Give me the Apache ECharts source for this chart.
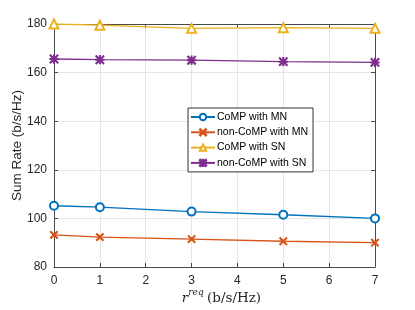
<!DOCTYPE html>
<html><head><meta charset="utf-8">
<script src="https://cdn.jsdelivr.net/npm/echarts@6/dist/echarts.min.js"></script>
<style>html,body{margin:0;padding:0;background:#fff}#c{width:415px;height:310px}</style>
</head><body><div id="c"></div>
<script>
const xValues = [0, 1, 3, 5, 7];
const compMN = [105.2, 104.6, 102.8, 101.5, 100.0];
const noncompMN = [93.2, 92.3, 91.5, 90.6, 90.0];
const compSN = [180.0, 179.5, 178.2, 178.5, 178.2];
const noncompSN = [165.6, 165.3, 165.1, 164.5, 164.2];
const seriesNames = ['CoMP with MN', 'non-CoMP with MN', 'CoMP with SN', 'non-CoMP with SN'];
const yTicks = [80, 100, 120, 140, 160, 180];
const xTicks = [0, 1, 2, 3, 4, 5, 6, 7];

const colors = ['#0072BD', '#D95319', '#EDB120', '#7E2F8E'];
const xPath = 'path://M0,0.8 L0.8,0 L5,4.2 L9.2,0 L10,0.8 L5.8,5 L10,9.2 L9.2,10 L5,5.8 L0.8,10 L0,9.2 L4.2,5 Z';
const starPath = 'path://M0,0.7 L0.7,0 L5,4.3 L9.3,0 L10,0.7 L5.7,5 L10,9.3 L9.3,10 L5,5.7 L0.7,10 L0,9.3 L4.3,5 Z M4.55,0 L5.45,0 L5.45,10 L4.55,10 Z M0,4.55 L10,4.55 L10,5.45 L0,5.45 Z';
const symbols = ['emptyCircle', xPath, 'emptyTriangle', starPath];
const sizes = [8, 7, 9, 8];
const dataSets = [compMN, noncompMN, compSN, noncompSN];
const font = 'Liberation Sans, Arial, sans-serif';
const axisColor = '#4a4a4a';

const chart = echarts.init(document.getElementById('c'), null, {renderer: 'canvas'});
const axisCommon = {
  type: 'value',
  axisLine: {show: true, onZero: false, lineStyle: {color: axisColor, width: 1}},
  axisTick: {show: true, inside: true, length: 4, lineStyle: {color: axisColor}},
  splitLine: {show: false},
};
chart.setOption({
  animation: false,
  grid: {left: 54, right: 40, top: 24, bottom: 43, containLabel: false, outerBoundsMode: 'none'},
  legend: {
    orient: 'vertical', left: 188, top: 108,
    data: seriesNames,
    backgroundColor: '#fff', borderColor: '#333', borderWidth: 1, borderRadius: 0,
    padding: [3, 5, 3, 2], itemGap: 3.3, itemWidth: 24, itemHeight: 8,
    textStyle: {fontFamily: font, fontSize: 10.5, lineHeight: 12, color: '#000', padding: [0, 0, 0, -3]}
  },
  xAxis: [
    Object.assign({}, axisCommon, {
      min: 0, max: 7, interval: 1, position: 'bottom',
      axisLabel: {fontFamily: font, fontSize: 12, color: '#262626', margin: 8},
      splitLine: {show: true, lineStyle: {color: '#e6e6e6', width: 1}},
      name: '{r|r}{s|req} {t|(b/s/Hz)}', nameLocation: 'middle', nameGap: 21,
      nameMoveOverlap: false,
      nameTextStyle: {
        color: '#262626',
        padding: [0, 0, 0, 14],
        rich: {
          r: {fontFamily: 'DejaVu Serif, serif', fontStyle: 'italic', fontSize: 13.5, color: '#262626'},
          s: {fontFamily: 'DejaVu Serif, serif', fontStyle: 'italic', fontSize: 9, color: '#262626', verticalAlign: 'bottom', padding: [0, 0, 11, 0]},
          t: {fontFamily: 'DejaVu Serif, serif', fontSize: 13.5, color: '#262626'}
        }
      }
    }),
    Object.assign({}, axisCommon, {
      min: 0, max: 7, interval: 1, position: 'top', axisLabel: {show: false}
    })
  ],
  yAxis: [
    Object.assign({}, axisCommon, {
      min: 80, max: 180, interval: 20, position: 'left',
      axisLabel: {fontFamily: font, fontSize: 12, color: '#262626', margin: 7},
      splitLine: {show: true, lineStyle: {color: '#e6e6e6', width: 1}},
      name: 'Sum Rate (b/s/Hz)', nameLocation: 'middle', nameGap: 30,
      nameMoveOverlap: false,
      nameTextStyle: {fontFamily: font, fontSize: 13.5, color: '#262626'}
    }),
    Object.assign({}, axisCommon, {
      min: 80, max: 180, interval: 20, position: 'right', axisLabel: {show: false}
    })
  ],
  series: dataSets.map((d, i) => ({
    name: seriesNames[i],
    type: 'line',
    data: d.map((v, j) => [xValues[j], v]),
    symbol: symbols[i],
    symbolSize: sizes[i],
    showAllSymbol: true,
    lineStyle: {color: colors[i], width: 1.3},
    itemStyle: {color: colors[i], borderColor: colors[i], borderWidth: 1.3},
    color: colors[i],
    z: 3
  }))
});
</script></body></html>
